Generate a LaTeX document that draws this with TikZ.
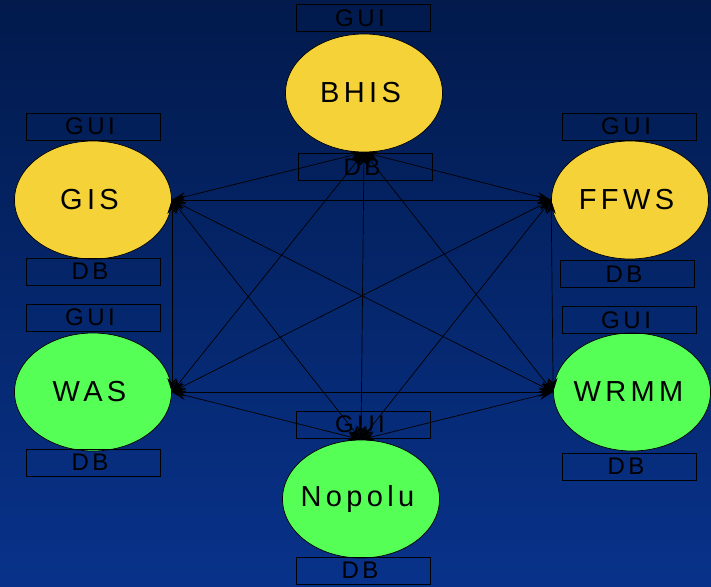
\documentclass[tikz,border=0pt]{standalone}
\usepackage{fontspec}
\setmainfont{Liberation Sans}
\newfontfamily\wide[LetterSpace=15]{Liberation Sans}
\usetikzlibrary{shapes.geometric,arrows.meta}

\definecolor{navytop}{RGB}{2,26,76}
\definecolor{navybot}{RGB}{8,50,138}
\definecolor{sysyellow}{RGB}{244,210,56}
\definecolor{sysgreen}{RGB}{85,255,85}

% system name, kept out of the ellipse size
\newcommand{\sysname}[1]{\makebox[0pt]{#1\hspace{7pt}}}

\tikzset{
	sys/.style={ellipse, draw=black, line width=0.7pt, minimum width=157pt, minimum height=118pt, inner sep=0pt, font=\wide\fontsize{29}{30}\selectfont},
	part/.style={draw=black, line width=1pt, minimum width=134pt, minimum height=27pt, inner sep=0pt, font=\wide\fontsize{24}{24}\selectfont, execute at end node={\hspace{6pt}}},
	link/.style={line width=0.7pt, {Stealth[length=14pt,width=9pt]}-{Stealth[length=14pt,width=9pt]}}
}

\begin{document}
\begin{tikzpicture}[x=1pt,y=-1pt]

		\shade[top color=navytop, bottom color=navybot] (0,0) rectangle (711,586);
		\useasboundingbox (0,0) rectangle (711,586);

		% the six systems
		\node[sys, fill=sysyellow] (bhis) at (364,93) {\sysname{BHIS}};
		\node[sys, fill=sysyellow] (gis) at (93,200) {\sysname{GIS}};
		\node[sys, fill=sysyellow] (ffws) at (630,200) {\sysname{FFWS}};
		\node[sys, fill=sysgreen] (was) at (93,392) {\sysname{WAS}};
		\node[sys, fill=sysgreen] (wrmm) at (632,392) {\sysname{WRMM}};
		\node[sys, fill=sysgreen] (nopolu) at (361,499) {\sysname{Nopolu}};

		% gui and db boxes
		\node[part] (bhisgui) at (363,18) {GUI};
		\node[part] (bhisdb) at (365,167) {DB};
		\node[part] (gisgui) at (93,126.5) {GUI};
		\node[part] (gisdb) at (93,271.5) {DB};
		\node[part] (ffwsgui) at (629,126.5) {GUI};
		\node[part] (ffwsdb) at (627,274) {DB};
		\node[part] (wasgui) at (93,317.5) {GUI};
		\node[part] (wasdb) at (93,462.5) {DB};
		\node[part] (wrmmgui) at (629,320) {GUI};
		\node[part] (wrmmdb) at (629,466.5) {DB};
		\node[part] (nopolugui) at (363,424.5) {GUI};
		\node[part] (nopoludb) at (363,570.5) {DB};

		% every system talks to every other
		\draw[link] (gis.east) -- (ffws.west);
		\draw[link] (gis.east) -- (was.east);
		\draw[link] (gis.east) -- (wrmm.west);
		\draw[link] (gis.east) -- (bhis.south);
		\draw[link] (gis.east) -- (nopolu.north);
		\draw[link] (ffws.west) -- (was.east);
		\draw[link] (ffws.west) -- (wrmm.west);
		\draw[link] (ffws.west) -- (bhis.south);
		\draw[link] (ffws.west) -- (nopolu.north);
		\draw[link] (was.east) -- (wrmm.west);
		\draw[link] (was.east) -- (bhis.south);
		\draw[link] (was.east) -- (nopolu.north);
		\draw[link] (wrmm.west) -- (bhis.south);
		\draw[link] (wrmm.west) -- (nopolu.north);
		\draw[link] (bhis.south) -- (nopolu.north);
	\end{tikzpicture}
\end{document}
